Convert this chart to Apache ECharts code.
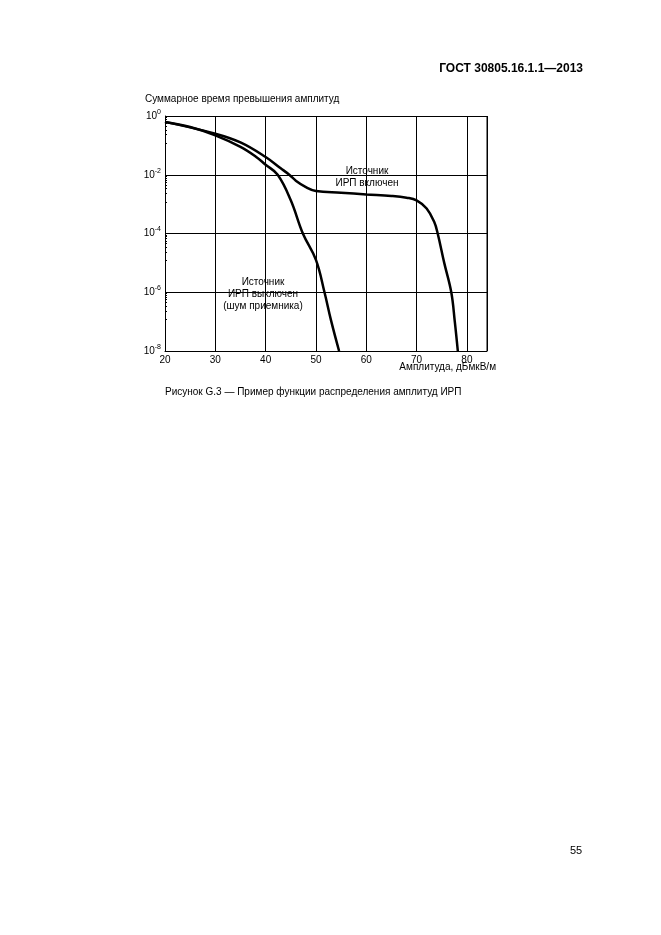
<!DOCTYPE html>
<html><head><meta charset="utf-8">
<script src="https://cdn.jsdelivr.net/npm/echarts@6/dist/echarts.min.js"></script>
<style>html,body{margin:0;background:#fff}#c{width:661px;height:935px}</style>
</head><body><div id="c"></div>
<script>
// кривая: источник ИРП включен [амплитуда, время]
var onData = [[20,6.3e-1],[30,2.5e-1],[35,1.26e-1],[40,4.0e-2],[43,1.66e-2],[44.7,1.0e-2],[46,6.3e-3],[48,3.8e-3],[50,2.8e-3],[55,2.45e-3],[60,2.14e-3],[65,1.9e-3],[68,1.66e-3],[70,1.35e-3],[72,7.1e-4],[73.5,2.5e-4],[74.2,1e-4],[75.5,1e-5],[76.9,1e-6],[77.6,1e-7],[78.2,1e-8]];
// кривая: источник ИРП выключен (шум приемника)
var offData = [[20,6.3e-1],[25,4.2e-1],[30,2.2e-1],[35,8.9e-2],[38,4.2e-2],[40,2.2e-2],[42.4,1e-2],[45,1.35e-3],[47.4,1e-4],[50,1.26e-5],[51.7,1e-6],[53,1.1e-7],[54.6,1e-8]];
var xTicks = [20,30,40,50,60,70,80];

var chart = echarts.init(document.getElementById('c'));
var font = 'Liberation Sans, Arial, sans-serif';
var option = {
  animation:false,
  grid:{left:165,top:116,width:322,height:235},
  xAxis:{
    type:'value',min:20,max:84,interval:10,
    axisLine:{lineStyle:{color:'#000'}},
    axisTick:{show:false},
    axisLabel:{color:'#000',fontFamily:font,fontSize:10,margin:4,
      formatter:function(v){return xTicks.indexOf(v)>=0?v:'';}},
    splitLine:{lineStyle:{color:'#000',width:1}}
  },
  yAxis:[{
    type:'log',logBase:10,min:1e-8,max:1,interval:2,
    axisLine:{show:true,lineStyle:{color:'#000'}},
    axisTick:{show:true,inside:true,length:4,lineStyle:{color:'#000'}},
    minorTick:{show:true,splitNumber:9,length:2,lineStyle:{color:'#000'}},
    axisLabel:{color:'#000',fontFamily:font,fontSize:10,margin:4,
      formatter:function(v){return '10{s|'+Math.round(Math.log10(v))+'}';},
      rich:{s:{fontSize:7,verticalAlign:'top',padding:[0,0,8,0],fontFamily:font}}},
    splitLine:{lineStyle:{color:'#000',width:1}}
  }],
  series:[
    {type:'line',data:onData,smooth:0.4,showSymbol:false,lineStyle:{color:'#000',width:2.5}},
    {type:'line',data:offData,smooth:0.4,showSymbol:false,lineStyle:{color:'#000',width:2.5}}
  ],
  graphic:[
    {type:'line',shape:{x1:487,y1:116,x2:487,y2:351},style:{stroke:'#000',lineWidth:1}},
    {type:'text',right:78,top:63,style:{text:'ГОСТ 30805.16.1.1—2013',font:'bold 12px '+font,fill:'#000'}},
    {type:'text',left:145,top:94,style:{text:'Суммарное время превышения амплитуд',font:'10px '+font,fill:'#000'}},
    {type:'rect',shape:{x:328,y:163,width:80,height:28},style:{fill:'#fff'}},
    {type:'text',x:367,y:165,style:{text:'Источник\nИРП включен',font:'10px '+font,fill:'#000',align:'center',lineHeight:12}},
    {type:'rect',shape:{x:218,y:273,width:90,height:40},style:{fill:'#fff'}},
    {type:'text',x:263,y:276,style:{text:'Источник\nИРП выключен\n(шум приемника)',font:'10px '+font,fill:'#000',align:'center',lineHeight:12}},
    {type:'text',right:165,top:362,style:{text:'Амплитуда, дБмкВ/м',font:'10px '+font,fill:'#000'}},
    {type:'text',left:165,top:387,style:{text:'Рисунок G.3 — Пример функции распределения амплитуд ИРП',font:'10px '+font,fill:'#000'}},
    {type:'text',left:570,top:845,style:{text:'55',font:'11px '+font,fill:'#000'}}
  ]
};
chart.setOption(option);
</script></body></html>
